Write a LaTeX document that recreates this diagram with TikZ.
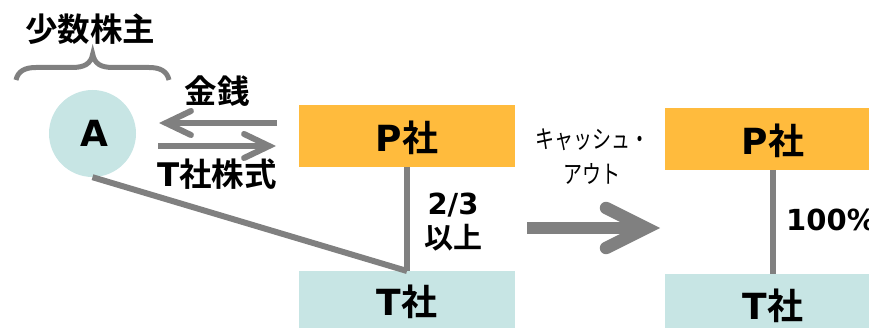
\documentclass[tikz,border=0pt]{standalone}
\usepackage{fontspec}
\usetikzlibrary{arrows.meta}
\setmainfont{DejaVu Sans}
\newfontfamily\jp{Noto Sans CJK JP}[BoldFont={* Bold}]
\newcommand{\J}[1]{{\jp #1}}
\definecolor{gold}{HTML}{FFBB3D}
\definecolor{teal}{HTML}{C7E5E4}
\definecolor{gr}{HTML}{808080}
\tikzset{x=1pt,y=-1pt,
 boxlab/.style={inner sep=0pt,font=\fontsize{36}{36}\selectfont\bfseries},
 conn/.style={draw=gr,line width=6pt},
 lab/.style={inner sep=0pt,font=\fontsize{32.5}{35}\selectfont\bfseries,align=center},
 smalllab/.style={inner sep=0pt,font=\fontsize{29}{34}\selectfont\bfseries,align=center},
 thinlab/.style={inner sep=0pt,font=\fontsize{25}{35}\selectfont\jp,align=center},
 barb/.style={-{Straight Barb[length=25pt,width=24pt,line cap=round,line join=miter]}},
 bigbarb/.style={-{Straight Barb[length=40pt,width=40pt,line cap=round,line join=miter]}}}
\begin{document}
\begin{tikzpicture}
\useasboundingbox (0,0) rectangle (869,328);
\fill[gold] (299,105) rectangle (515,167);
\fill[teal] (299,271) rectangle (515,328);
\fill[gold] (665,108) rectangle (869,170);
\fill[teal] (665,274) rectangle (869,328);
\node[boxlab] (p1) at (407,138) {P\J{社}};
\node[boxlab] (t1) at (407,302) {T\J{社}};
\node[boxlab] (p2) at (773,141) {P\J{社}};
\node[boxlab] (t2) at (773,306) {T\J{社}};
\node[circle,fill=teal,minimum size=87pt,inner sep=0pt,font=\fontsize{36}{36}\selectfont\bfseries] (a) at (92.5,133.5) {\kern3pt A};
\coordinate (pb) at (407,167);
\coordinate (tt) at (407,271);
\coordinate (pb2) at (773,170);
\coordinate (tt2) at (773,274);
\draw[conn] (pb) -- (tt);
\draw[conn] (pb2) -- (tt2);
\draw[conn] (a.south) -- (tt);
\coordinate (u1) at (277,123); \coordinate (u2) at (159,123);
\coordinate (l1) at (158,146); \coordinate (l2) at (276,146);
\draw[conn,barb] (u1) -- (u2);
\draw[conn,barb] (l1) -- (l2);
\coordinate (b1) at (527,228); \coordinate (b2) at (660,228);
\draw[draw=gr,line width=12.5pt,bigbarb] (b1) -- (b2);
\node[lab] (n1) at (90,29) {\J{少数株主}};
\node[lab] (n2) at (217,91) {\J{金銭}};
\node[lab] (n3) at (217,174) {T\J{社株式}};
\node[smalllab] (n4) at (453,222) {2/3\\\J{以上}};
\node[smalllab,anchor=west] (n5) at (786,220) {100\%};
\node[thinlab] (n6) at (592,157) {\scalebox{0.76}[1]{キャッシュ・}\\\scalebox{0.76}[1]{アウト}};
\draw[draw=gr,line width=5pt] (16,80) .. controls (18,71) and (25,67.5) .. (36,67.5) -- (72,67.5) .. controls (84,67.5) and (91,64) .. (92.7,54) .. controls (94.5,64) and (101,67.5) .. (113,67.5) -- (149,67.5) .. controls (160,67.5) and (167,71) .. (169,80);
\end{tikzpicture}
\end{document}
